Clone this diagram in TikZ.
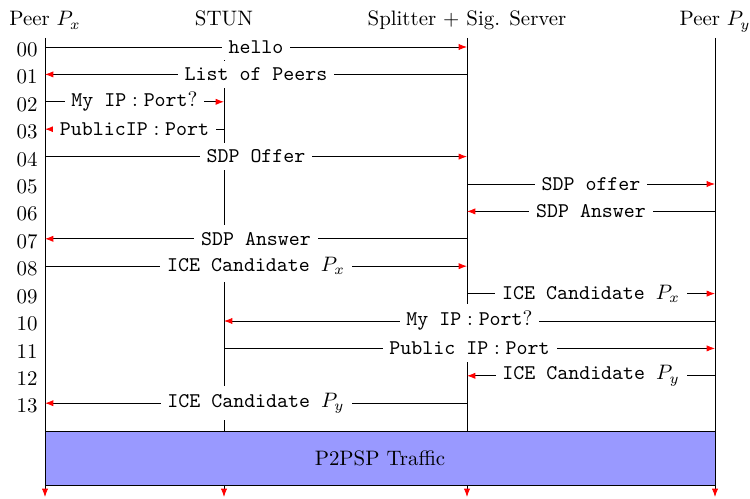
\documentclass[tikz,border=0pt]{standalone}
\usetikzlibrary{arrows.meta}
\begin{document}
\begin{tikzpicture}[x=0.4785pt,y=-0.4785pt]

    % let's define some key values (one unit is one pixel)
    \def\xpx{45}
    \def\xstun{224}
    \def\xsplit{467}
    \def\xpy{715}
    \def\ytop{38}
    \def\ybottom{497}
    \def\yfirst{47}
    \def\rowgap{27.4}

    % Styles
    \tikzstyle{tip}=[-{Latex[red,length=4pt,width=3pt]}]
    \tikzstyle{life}=[tip]
    \tikzstyle{msg}=[tip]
    \tikzstyle{lbl}=[fill=white,font=\ttfamily]

    \useasboundingbox (0,0) rectangle (750,498);

    % headers
    \node[anchor=base] (px) at (\xpx,26) {Peer $P_x$};
    \node[anchor=base] (stun) at (\xstun,26) {STUN};
    \node[anchor=base] (split) at (\xsplit,26) {Splitter + Sig. Server};
    \node[anchor=base] (py) at (\xpy,26) {Peer $P_y$};

    % ends of the lifelines
    \coordinate (pxtop) at (\xpx,\ytop);
    \coordinate (stuntop) at (\xstun,\ytop);
    \coordinate (splittop) at (\xsplit,\ytop);
    \coordinate (pytop) at (\xpy,\ytop);
    \coordinate (pxend) at (\xpx,\ybottom);
    \coordinate (stunend) at (\xstun,\ybottom);
    \coordinate (splitend) at (\xsplit,\ybottom);
    \coordinate (pyend) at (\xpy,\ybottom);

    % one point per row on every lifeline
    \foreach \i in {0,...,13}{
        \coordinate (px\i) at (\xpx,{\yfirst+\i*\rowgap});
        \coordinate (stun\i) at (\xstun,{\yfirst+\i*\rowgap});
        \coordinate (split\i) at (\xsplit,{\yfirst+\i*\rowgap});
        \coordinate (py\i) at (\xpy,{\yfirst+\i*\rowgap});
        \node[left,yshift=-1.3pt] (row\i) at (px\i) {\ifnum\i<10 0\fi\i};
    }

    % lifelines
    \draw[life] (pxtop) -- (pxend);
    \draw[life] (stuntop) -- (stunend);
    \draw[life] (splittop) -- (splitend);
    \draw[life] (pytop) -- (pyend);

    % messages
    \draw[msg] (px0) -- node[lbl] {hello} (split0);
    \draw[msg] (split1) -- node[lbl] {List of Peers} (px1);
    \draw[msg] (px2) -- node[lbl] {$\texttt{My IP}:\texttt{Port}?$} (stun2);
    \draw[msg] (stun3) -- node[lbl] {$\texttt{PublicIP}:\texttt{Port}$} (px3);
    \draw[msg] (px4) -- node[lbl] {SDP Offer} (split4);
    \draw[msg] (split5) -- node[lbl] {SDP offer} (py5);
    \draw[msg] (py6) -- node[lbl] {SDP Answer} (split6);
    \draw[msg] (split7) -- node[lbl] {SDP Answer} (px7);
    \draw[msg] (px8) -- node[lbl] {ICE Candidate $P_x$} (split8);
    \draw[msg] (split9) -- node[lbl] {ICE Candidate $P_x$} (py9);
    \draw[msg] (py10) -- node[lbl] {$\texttt{My IP}:\texttt{Port}?$} (stun10);
    \draw[msg] (stun11) -- node[lbl] {$\texttt{Public IP}:\texttt{Port}$} (py11);
    \draw[msg] (py12) -- node[lbl] {ICE Candidate $P_y$} (split12);
    \draw[msg] (split13) -- node[lbl] {ICE Candidate $P_y$} (px13);

    % traffic box
    \coordinate (boxtl) at (\xpx,431);
    \coordinate (boxbr) at (\xpy,485);
    \draw[fill=blue!40] (boxtl) rectangle (boxbr);
    \node (traffic) at (380,458) {P2PSP Traffic};

\end{tikzpicture}
\end{document}
